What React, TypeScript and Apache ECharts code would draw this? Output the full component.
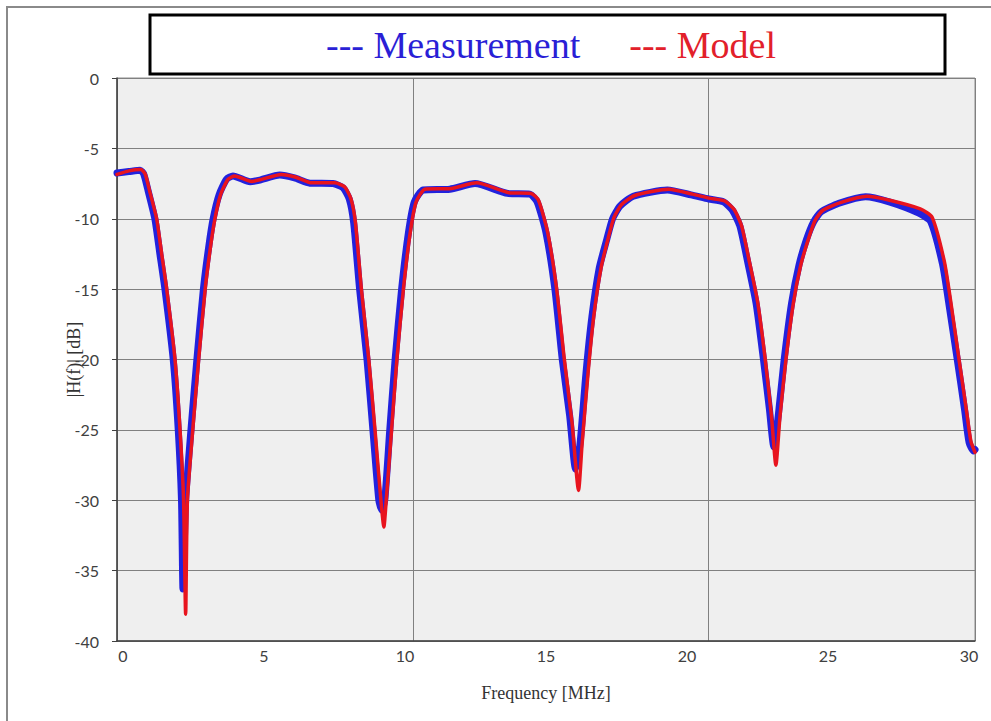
import React, { useEffect, useRef } from "react";
import * as echarts from "echarts";

const measFreq = [0, 0.4, 0.78, 0.9, 1.05, 1.28, 1.45, 1.62, 1.9, 2.07, 2.18, 2.23, 2.32, 2.5, 2.7, 2.92, 3.1, 3.25, 3.45, 3.7, 3.92, 4.5, 4.83, 5.5, 6.0, 6.52, 7.3, 7.64, 7.85, 8.0, 8.2, 8.45, 8.65, 8.85, 8.95, 9.05, 9.22, 9.4, 9.62, 9.85, 10.05, 10.35, 11.25, 12.1, 13.2, 13.95, 14.2, 14.5, 14.8, 15.05, 15.3, 15.5, 15.65, 15.85, 16.05, 16.3, 16.55, 16.75, 17.0, 17.45, 18.6, 19.4, 20.0, 20.5, 20.8, 21.05, 21.3, 21.6, 21.85, 22.05, 22.2, 22.35, 22.55, 22.8, 23.05, 23.3, 23.55, 23.8, 24.4, 25.3, 26.1, 27.1, 27.5, 27.9, 28.1, 28.4, 28.65, 28.8, 28.95, 29.0];
const measDb = [-6.75, -6.65, -6.55, -6.8, -8.0, -10.0, -12.5, -15, -20, -25, -30, -36.3, -30, -25, -20, -15, -12, -10, -8.3, -7.2, -6.96, -7.37, -7.25, -6.9, -7.1, -7.47, -7.5, -7.8, -8.6, -10.3, -15, -20, -25, -30, -30.7, -30, -25, -20, -15, -11, -8.8, -7.96, -7.9, -7.5, -8.2, -8.25, -8.8, -11, -15, -20, -24, -27.8, -26, -21, -17, -13.5, -11.5, -10, -9.1, -8.4, -7.96, -8.3, -8.6, -8.8, -9.4, -10.5, -12.9, -16, -20, -23.5, -26.2, -24, -20, -16, -13.3, -11.5, -10.2, -9.5, -8.9, -8.43, -8.8, -9.6, -10.2, -13.2, -15.8, -20, -23.6, -25.9, -26.5, -26.4];

const modelFreq = [0, 0.4, 0.8, 0.95, 1.1, 1.34, 1.51, 1.68, 1.96, 2.13, 2.25, 2.32, 2.38, 2.56, 2.76, 2.98, 3.16, 3.31, 3.5, 3.75, 3.98, 4.55, 4.88, 5.55, 6.05, 6.58, 7.36, 7.7, 7.91, 8.06, 8.26, 8.51, 8.72, 8.92, 9.02, 9.1, 9.28, 9.46, 9.68, 9.91, 10.11, 10.41, 11.3, 12.15, 13.25, 14.0, 14.25, 14.56, 14.86, 15.12, 15.38, 15.6, 15.72, 15.92, 16.11, 16.36, 16.6, 16.8, 17.05, 17.5, 18.65, 19.45, 20.05, 20.55, 20.86, 21.11, 21.36, 21.66, 21.91, 22.12, 22.27, 22.41, 22.61, 22.86, 23.11, 23.36, 23.6, 23.86, 24.45, 25.35, 26.15, 27.15, 27.55, 27.96, 28.16, 28.46, 28.71, 28.86, 29.0];
const modelDb = [-6.85, -6.6, -6.5, -6.8, -8.0, -10.0, -12.5, -15, -20, -25, -30, -38.1, -30, -25, -20, -15, -12, -10, -8.3, -7.2, -6.96, -7.35, -7.2, -6.85, -7.05, -7.45, -7.45, -7.75, -8.6, -10.3, -15, -20, -25, -30, -31.9, -30, -25, -20, -15, -11, -8.8, -7.9, -7.85, -7.45, -8.15, -8.2, -8.7, -11, -15, -20, -24.5, -29.3, -26, -21, -17, -13.5, -11.4, -9.9, -9.0, -8.35, -7.9, -8.25, -8.55, -8.75, -9.35, -10.5, -12.9, -16, -20, -24, -27.5, -24, -20, -16, -13.3, -11.5, -10.1, -9.4, -8.85, -8.4, -8.7, -9.3, -9.9, -13, -15.6, -20, -23.6, -25.8, -26.6];

const seriesNames = ["Measurement", "Model"];
const xTickLabels = [0, 5, 10, 15, 20, 25, 30];
const yTicks = [0, -5, -10, -15, -20, -25, -30, -35, -40];

const BLUE = "#2222dd";
const RED = "#e8141e";

export default function App() {
  const ref = useRef<HTMLDivElement>(null);
  useEffect(() => {
    document.body.style.margin = "0";
    if (!ref.current) return;
    const chart = echarts.init(ref.current, null, { renderer: "svg" });
    const meas = measFreq.map((f, i) => [f, measDb[i]]);
    const model = modelFreq.map((f, i) => [f, modelDb[i]]);
    const labelFont = "Lato";
    const serif = "Liberation Serif";
    chart.setOption({
      animation: false,
      backgroundColor: "#ffffff",
      graphic: [
        {
          type: "rect",
          z: -10,
          shape: { x: 7, y: 7, width: 1010, height: 800 },
          style: { fill: "none", stroke: "#8a8a8a", lineWidth: 2 },
        },
        {
          type: "rect",
          z: 0,
          shape: { x: 150, y: 15, width: 795, height: 59 },
          style: { fill: "#ffffff", stroke: "#000000", lineWidth: 3 },
        },
      ],
      legend: {
        z: 10,
        left: 316,
        top: 21,
        icon: "none",
        itemWidth: 0,
        itemHeight: 0,
        itemGap: 44,
        formatter: (n: string) => "--- " + n,
        textStyle: { fontFamily: serif, fontSize: 38 },
        data: [
          { name: seriesNames[0], textStyle: { color: "#2a1fd6" } },
          { name: seriesNames[1], textStyle: { color: "#e2202a" } },
        ],
      },
      grid: [
        {
          left: 117,
          top: 78,
          width: 858,
          height: 563,
          show: true,
          backgroundColor: "#efefef",
          borderColor: "#8c8c8c",
          borderWidth: 1,
        },
        { left: 123, top: 78, width: 846, height: 563, show: false },
      ],
      xAxis: [
        {
          type: "value",
          gridIndex: 0,
          min: 0,
          max: 29,
          interval: 10,
          name: "Frequency [MHz]",
          nameLocation: "middle",
          nameGap: 43,
          nameMoveOverlap: false,
          nameTextStyle: { fontFamily: serif, fontSize: 18, color: "#333333" },
          axisLine: { show: true, onZero: false, lineStyle: { color: "#404040", width: 1.5 } },
          axisTick: { show: false },
          axisLabel: { show: false },
          splitLine: { show: true, lineStyle: { color: "#808080", width: 1 } },
        },
        {
          type: "value",
          gridIndex: 1,
          min: 0,
          max: 30,
          interval: 5,
          axisLine: { show: false },
          axisTick: { show: false },
          splitLine: { show: false },
          axisLabel: {
            show: true,
            margin: 6,
            fontFamily: labelFont,
            fontSize: 16,
            color: "#404040",
            formatter: (v: number) => (xTickLabels.includes(v) ? String(v) : ""),
          },
        },
      ],
      yAxis: [
        {
          type: "value",
          gridIndex: 0,
          min: -40,
          max: 0,
          interval: 5,
          name: "|H(f)| [dB]",
          nameLocation: "middle",
          nameGap: 34,
          nameRotate: 90,
          nameMoveOverlap: false,
          nameTextStyle: { fontFamily: serif, fontSize: 18, color: "#333333" },
          axisLine: { show: true, onZero: false, lineStyle: { color: "#404040", width: 1.5 } },
          axisTick: { show: true, length: 5, lineStyle: { color: "#404040" } },
          axisLabel: {
            margin: 18,
            fontFamily: labelFont,
            fontSize: 16,
            color: "#404040",
            formatter: (v: number) => (yTicks.includes(v) ? String(v) : ""),
          },
          splitLine: { show: true, lineStyle: { color: "#808080", width: 1 } },
        },
        {
          type: "value",
          gridIndex: 1,
          min: 0,
          max: 1,
          show: false,
        },
      ],
      series: [
        {
          name: seriesNames[0],
          type: "line",
          xAxisIndex: 0,
          yAxisIndex: 0,
          data: meas,
          showSymbol: false,
          symbol: "none",
          smooth: 0.2,
          lineStyle: { color: BLUE, width: 7, join: "round", cap: "round" },
          itemStyle: { color: BLUE },
          z: 3,
        },
        {
          name: seriesNames[1],
          type: "line",
          xAxisIndex: 0,
          yAxisIndex: 0,
          data: model,
          showSymbol: false,
          symbol: "none",
          smooth: 0.2,
          lineStyle: { color: RED, width: 3.5, join: "round", cap: "round" },
          itemStyle: { color: RED },
          z: 4,
        },
      ],
    });
    return () => chart.dispose();
  }, []);
  return <div ref={ref} style={{ width: 991, height: 721 }} />;
}
